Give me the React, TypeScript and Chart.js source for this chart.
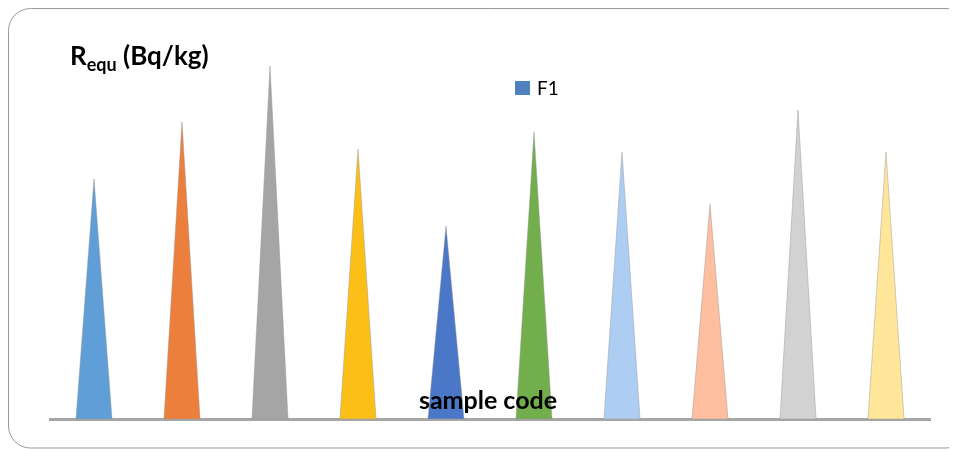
import React, { useEffect, useRef } from "react";
import { Chart, registerables } from "chart.js";

Chart.register(...registerables);

const categories = ["S1", "S2", "S3", "S4", "S5", "S6", "S7", "S8", "S9", "S10"];
const seriesLabel = "F1";
const values = [95.0, 117.5, 139.7, 106.9, 76.4, 113.6, 105.7, 85.1, 122.3, 105.7];
const barColors = [
  "#5f9ed6",
  "#ec7f3c",
  "#a5a5a5",
  "#fbbf17",
  "#4a77c7",
  "#72ae4c",
  "#aecdf3",
  "#fdbf9f",
  "#d2d2d2",
  "#ffe699",
];
const yMax = 150;
const yTitleMain = "R";
const yTitleSub = "equ";
const yTitleUnit = " (Bq/kg)";
const xTitle = "sample code";
const legendColor = "#4f81bd";

const FONT = "Lato, 'Open Sans', sans-serif";

const decorPlugin = {
  id: "decor",
  beforeDraw(chart: any) {
    const ctx = chart.ctx;
    ctx.save();
    ctx.fillStyle = "#ffffff";
    ctx.fillRect(0, 0, chart.width, chart.height);
    // rounded frame
    const x0 = 0.5, y0 = 0.5, x1 = 960, y1 = 440, r = 22;
    ctx.beginPath();
    ctx.moveTo(x0 + r, y0);
    ctx.lineTo(x1 - r, y0);
    ctx.arcTo(x1, y0, x1, y0 + r, r);
    ctx.lineTo(x1, y1 - r);
    ctx.arcTo(x1, y1, x1 - r, y1, r);
    ctx.lineTo(x0 + r, y1);
    ctx.arcTo(x0, y1, x0, y1 - r, r);
    ctx.lineTo(x0, y0 + r);
    ctx.arcTo(x0, y0, x0 + r, y0, r);
    ctx.closePath();
    ctx.strokeStyle = "#9a9a9a";
    ctx.lineWidth = 1;
    ctx.stroke();
    ctx.restore();
  },
  afterDatasetsDraw(chart: any) {
    const ctx = chart.ctx;
    const meta = chart.getDatasetMeta(0);
    ctx.save();
    meta.data.forEach((bar: any, i: number) => {
      const { x, y, base, width } = bar.getProps(["x", "y", "base", "width"], true);
      ctx.beginPath();
      ctx.moveTo(x - width / 2, base);
      ctx.lineTo(x, y);
      ctx.lineTo(x + width / 2, base);
      ctx.closePath();
      ctx.fillStyle = barColors[i % barColors.length];
      ctx.fill();
      ctx.strokeStyle = "rgba(150,150,150,0.45)";
      ctx.lineWidth = 1;
      ctx.stroke();
    });
    // axis title
    ctx.fillStyle = "#000000";
    ctx.font = `bold 25px ${FONT}`;
    ctx.textAlign = "center";
    ctx.textBaseline = "alphabetic";
    const ca = chart.chartArea;
    ctx.fillText(xTitle, (ca.left + ca.right) / 2 - 2, 401);

    // y title with subscript
    ctx.textAlign = "left";
    let tx = 62;
    const ty = 57;
    ctx.font = `bold 26px ${FONT}`;
    ctx.fillText(yTitleMain, tx, ty);
    tx += ctx.measureText(yTitleMain).width;
    ctx.font = `bold 18px ${FONT}`;
    ctx.fillText(yTitleSub, tx, ty + 6);
    tx += ctx.measureText(yTitleSub).width;
    ctx.font = `bold 26px ${FONT}`;
    ctx.fillText(yTitleUnit, tx, ty);

    // legend
    ctx.fillStyle = legendColor;
    ctx.fillRect(507, 73, 15, 14);
    ctx.fillStyle = "#000000";
    ctx.font = `19px ${FONT}`;
    ctx.fillText(chart.data.datasets[0].label, 529, 87);
    ctx.restore();
  },
};

export default function App() {
  const ref = useRef<HTMLCanvasElement>(null);
  useEffect(() => {
    document.documentElement.style.overflow = "hidden";
    const canvas = ref.current!;
    const chart = new Chart(canvas, {
      type: "bar",
      data: {
        labels: categories,
        datasets: [
          {
            label: seriesLabel,
            data: values,
            backgroundColor: "rgba(0,0,0,0)",
            borderWidth: 0,
            categoryPercentage: 1,
            barPercentage: 0.41,
          },
        ],
      },
      options: {
        animation: false,
        responsive: false,
        devicePixelRatio: 1,
        layout: { padding: { left: 42, right: 27, top: 32, bottom: 31 } },
        plugins: {
          legend: { display: false },
          tooltip: { enabled: false },
          title: { display: false },
        },
        scales: {
          x: {
            display: true,
            offset: true,
            ticks: { display: false },
            grid: { display: false, drawTicks: false },
            border: { display: true, color: "#a6a6a6", width: 3 },
          },
          y: {
            display: false,
            min: 0,
            max: yMax,
          },
        },
      },
      plugins: [decorPlugin],
    });
    return () => chart.destroy();
  }, []);
  return (
    <div style={{ width: 949, height: 442 }}>
      <canvas ref={ref} width={949} height={442} style={{ display: "block", width: 949, height: 442 }} />
    </div>
  );
}
